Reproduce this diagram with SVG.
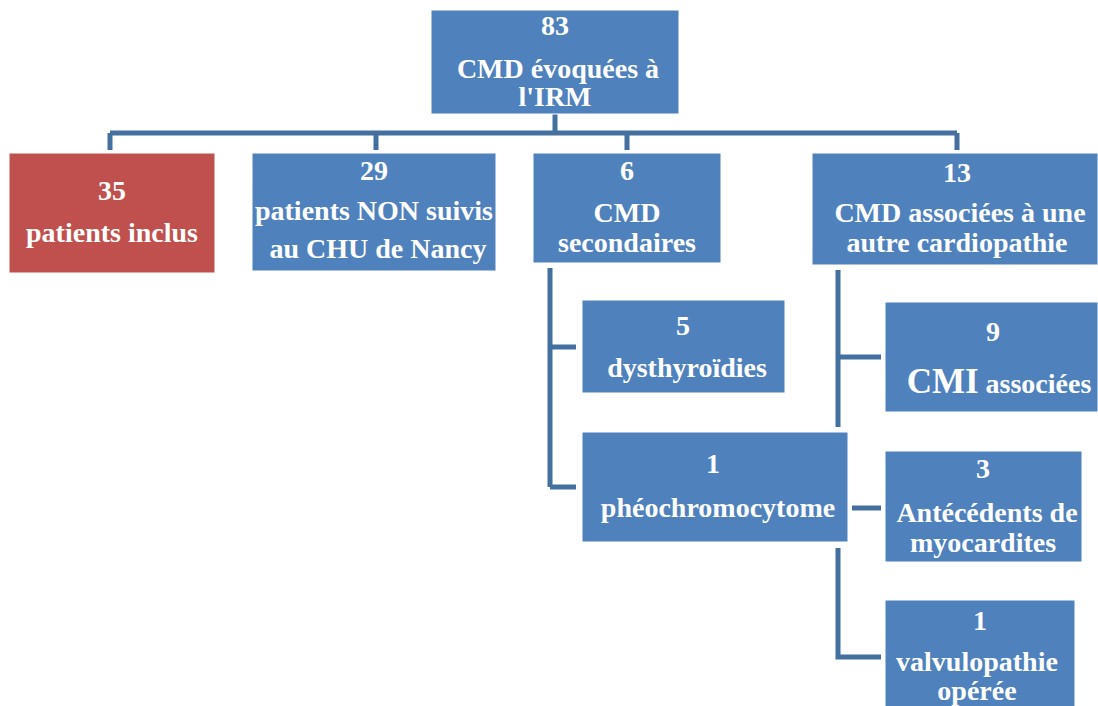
<svg xmlns="http://www.w3.org/2000/svg" width="1098" height="706" viewBox="0 0 1098 706">
<style>
.b{fill:#4F81BD;stroke:#FFFFFF;stroke-width:1}
.r{fill:#C0504D;stroke:#FFFFFF;stroke-width:1}
.t{font-family:"Liberation Serif","Times New Roman",serif;font-weight:bold;font-size:28px;fill:#FFFFFF;text-anchor:middle}
.c{fill:none;stroke:#44709F;stroke-width:5}
</style>
<rect width="1098" height="706" fill="#FFFFFF"/>
<g id="connectors">
<path class="c" d="M555 113V133M110 133H957M110 133V150M376 133V150M627 133V150M957 133V150"/>
<path class="c" d="M550 268V487M550 347H576M550 487H576"/>
<path class="c" d="M838 270V427M838 357H881"/>
<path class="c" d="M852 508H881"/>
<path class="c" d="M838 548V657H881"/>
</g>
<g id="n83"><rect class="b" x="431" y="10" width="248" height="104"/>
<text class="t" x="555" y="35">83</text><text class="t" x="558" y="78">CMD évoquées à</text><text class="t" x="555" y="106">l'IRM</text></g>
<g id="n35"><rect class="r" x="9" y="153" width="206" height="120"/>
<text class="t" x="112" y="200">35</text><text class="t" x="112" y="242">patients inclus</text></g>
<g id="n29"><rect class="b" x="252" y="153" width="244" height="118"/>
<text class="t" x="374" y="180">29</text><text class="t" x="374" y="220">patients NON suivis</text><text class="t" x="378" y="258">au  CHU de Nancy</text></g>
<g id="n6"><rect class="b" x="533" y="153" width="188" height="110"/>
<text class="t" x="627" y="180">6</text><text class="t" x="627" y="222">CMD</text><text class="t" x="627" y="252">secondaires</text></g>
<g id="n13"><rect class="b" x="812" y="153" width="286" height="112"/>
<text class="t" x="957" y="182">13</text><text class="t" x="960" y="222">CMD associées à une</text><text class="t" x="957" y="252">autre cardiopathie</text></g>
<g id="n5"><rect class="b" x="582" y="300" width="203" height="93"/>
<text class="t" x="683" y="335">5</text><text class="t" x="687" y="377">dysthyroïdies</text></g>
<g id="n1p"><rect class="b" x="582" y="432" width="266" height="110"/>
<text class="t" x="713" y="473">1</text><text class="t" x="718" y="517">phéochromocytome</text></g>
<g id="n9"><rect class="b" x="885" y="302" width="213" height="110"/>
<text class="t" x="993" y="341">9</text><text class="t" x="999" y="393"><tspan font-size="35">CMI</tspan> associées</text></g>
<g id="n3"><rect class="b" x="885" y="451" width="197" height="111"/>
<text class="t" x="983" y="478">3</text><text class="t" x="987" y="522">Antécédents de</text><text class="t" x="983" y="552">myocardites</text></g>
<g id="n1v"><rect class="b" x="885" y="600" width="190" height="108"/>
<text class="t" x="980" y="630">1</text><text class="t" x="977" y="671" font-size="27">valvulopathie</text><text class="t" x="977" y="700" font-size="27">opérée</text></g>
</svg>
